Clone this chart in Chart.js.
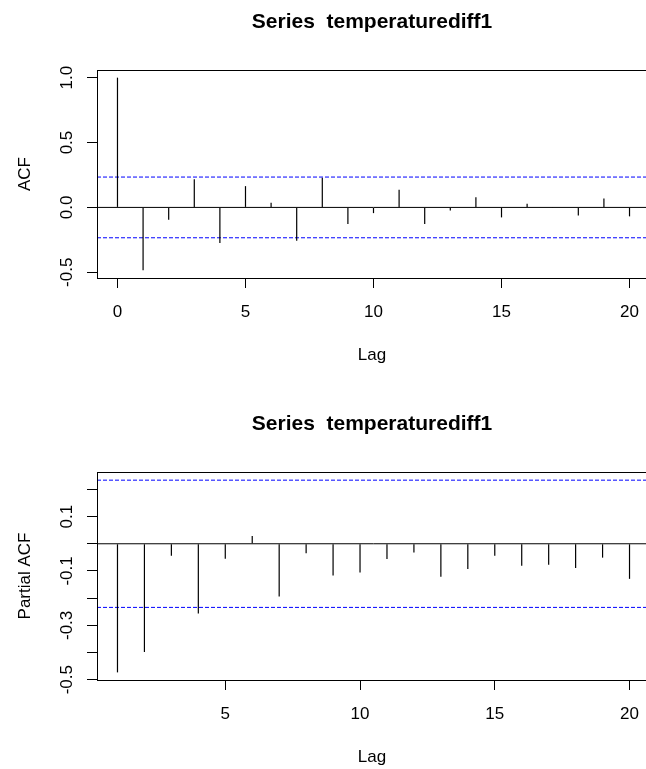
<!DOCTYPE html>
<html>
<head>
<meta charset="utf-8">
<script src="https://cdn.jsdelivr.net/npm/chart.js@4.4.0/dist/chart.umd.min.js"></script>
<style>
  html, body { margin: 0; padding: 0; background: #fff; overflow: hidden; width: 646px; height: 769px; }
  #wrap { position: relative; width: 646px; height: 769px; overflow: hidden; }
  canvas { position: absolute; left: 0; }
</style>
</head>
<body>
<div id="wrap">
  <canvas id="chartAcf" width="660" height="402" style="top:0"></canvas>
  <canvas id="chartPacf" width="660" height="367" style="top:402px"></canvas>
</div>
<script>
// Dados
const tituloSerie = 'Series  temperaturediff1';

const acfLags = [0, 1, 2, 3, 4, 5, 6, 7, 8, 9, 10, 11, 12, 13, 14, 15, 16, 17, 18, 19, 20];
const acfValores = [1.0, -0.485, -0.095, 0.218, -0.274, 0.164, 0.036, -0.256, 0.228, -0.128, -0.044,
  0.136, -0.128, -0.023, 0.079, -0.077, 0.028, -0.003, -0.062, 0.069, -0.069];

const pacfLags = [1, 2, 3, 4, 5, 6, 7, 8, 9, 10, 11, 12, 13, 14, 15, 16, 17, 18, 19, 20];
const pacfValores = [-0.473, -0.398, -0.044, -0.256, -0.055, 0.029, -0.194, -0.035, -0.117, -0.106,
  -0.056, -0.032, -0.121, -0.093, -0.044, -0.081, -0.077, -0.089, -0.051, -0.129];

const limiteConfianca = 0.234;

const acfTicksX = [0, 5, 10, 15, 20];
const acfTicksY = [-0.5, 0, 0.5, 1.0];
const acfRotulosY = ['-0.5', '0.0', '0.5', '1.0'];

const pacfTicksX = [5, 10, 15, 20];
const pacfTicksY = [-0.5, -0.4, -0.3, -0.2, -0.1, 0, 0.1, 0.2];
const pacfRotulosY = ['-0.5', '', '-0.3', '', '-0.1', '', '0.1', ''];

const FONTE = '"Liberation Sans", Arial, sans-serif';

let chartsInstance = {
  chartAcf: null,
  chartPacf: null
};

/**
 * Desenha caixa, títulos e rótulos no estilo do R
 */
const pluginRotulos = {
  id: 'rotulos',
  afterDraw(chart, args, opts) {
    const ctx = chart.ctx;
    const area = chart.chartArea;
    const sx = chart.scales.x;
    const sy = chart.scales.y;

    ctx.save();
    ctx.strokeStyle = '#000';
    ctx.lineWidth = 1;
    ctx.strokeRect(Math.round(area.left) + 0.5, Math.round(area.top) + 0.5,
      Math.round(area.right - area.left), Math.round(area.bottom - area.top));

    ctx.fillStyle = '#000';
    ctx.textBaseline = 'alphabetic';

    // título
    ctx.font = 'bold 21px ' + FONTE;
    ctx.textAlign = 'center';
    ctx.fillText(opts.titulo, 372, 28);

    // rótulos do eixo x
    ctx.font = '17px ' + FONTE;
    opts.ticksX.forEach(v => {
      ctx.fillText(String(v), sx.getPixelForValue(v), area.bottom + 39);
    });
    ctx.fillText('Lag', 372, area.bottom + 82);

    // rótulos do eixo y (girados)
    opts.ticksY.forEach((v, i) => {
      const txt = opts.rotulosY[i];
      if (!txt) return;
      ctx.save();
      ctx.translate(72, sy.getPixelForValue(v));
      ctx.rotate(-Math.PI / 2);
      ctx.fillText(txt, 0, 0);
      ctx.restore();
    });

    ctx.save();
    ctx.translate(30, (area.top + area.bottom) / 2);
    ctx.rotate(-Math.PI / 2);
    ctx.fillText(opts.rotuloY, 0, 0);
    ctx.restore();

    ctx.restore();
  }
};

/**
 * Monta um correlograma (linhas verticais + limites tracejados)
 */
function renderizarCorrelograma(canvasId, cfg) {
  const canvas = document.getElementById(canvasId);
  const altura = canvas.height;

  const linhaHorizontal = (y, cor, tracejado) => ({
    type: 'line',
    data: [{ x: cfg.xMin, y: y }, { x: cfg.xMax, y: y }],
    borderColor: cor,
    borderWidth: 1,
    borderDash: tracejado,
    pointRadius: 0,
    fill: false
  });

  return new Chart(canvas, {
    type: 'bar',
    data: {
      datasets: [
        {
          type: 'bar',
          data: cfg.lags.map((l, i) => ({ x: l, y: cfg.valores[i] })),
          backgroundColor: '#000',
          borderWidth: 0,
          barThickness: 1.2,
          inflateAmount: 0
        },
        linhaHorizontal(0, '#000', []),
        linhaHorizontal(limiteConfianca, '#0000FF', [4, 2]),
        linhaHorizontal(-limiteConfianca, '#0000FF', [4, 2])
      ]
    },
    options: {
      responsive: false,
      animation: false,
      layout: { padding: { top: 70, right: 10, left: 0, bottom: 0 } },
      plugins: {
        legend: { display: false },
        tooltip: { enabled: false },
        rotulos: {
          titulo: tituloSerie,
          rotuloY: cfg.rotuloY,
          ticksX: cfg.ticksX,
          ticksY: cfg.ticksY,
          rotulosY: cfg.rotulosY
        }
      },
      scales: {
        x: {
          type: 'linear',
          min: cfg.xMin,
          max: cfg.xMax,
          offset: false,
          grid: { offset: false, drawOnChartArea: false, drawTicks: true, tickLength: 10, color: '#000' },
          border: { display: true, color: '#000' },
          ticks: { display: false },
          afterBuildTicks: s => { s.ticks = cfg.ticksX.map(v => ({ value: v })); },
          afterFit: s => { s.height = altura - 278; }
        },
        y: {
          min: cfg.yMin,
          max: cfg.yMax,
          grid: { offset: false, drawOnChartArea: false, drawTicks: true, tickLength: 10, color: '#000' },
          border: { display: true, color: '#000' },
          ticks: { display: false },
          afterBuildTicks: s => { s.ticks = cfg.ticksY.map(v => ({ value: v })); },
          afterFit: s => { s.width = 97; }
        }
      }
    },
    plugins: [pluginRotulos]
  });
}

chartsInstance.chartAcf = renderizarCorrelograma('chartAcf', {
  lags: acfLags,
  valores: acfValores,
  xMin: -0.8, xMax: 20.8,
  yMin: -0.544, yMax: 1.059,
  ticksX: acfTicksX,
  ticksY: acfTicksY,
  rotulosY: acfRotulosY,
  rotuloY: 'ACF'
});

chartsInstance.chartPacf = renderizarCorrelograma('chartPacf', {
  lags: pacfLags,
  valores: pacfValores,
  xMin: 0.24, xMax: 20.76,
  yMin: -0.501, yMax: 0.264,
  ticksX: pacfTicksX,
  ticksY: pacfTicksY,
  rotulosY: pacfRotulosY,
  rotuloY: 'Partial ACF'
});
</script>
</body>
</html>
